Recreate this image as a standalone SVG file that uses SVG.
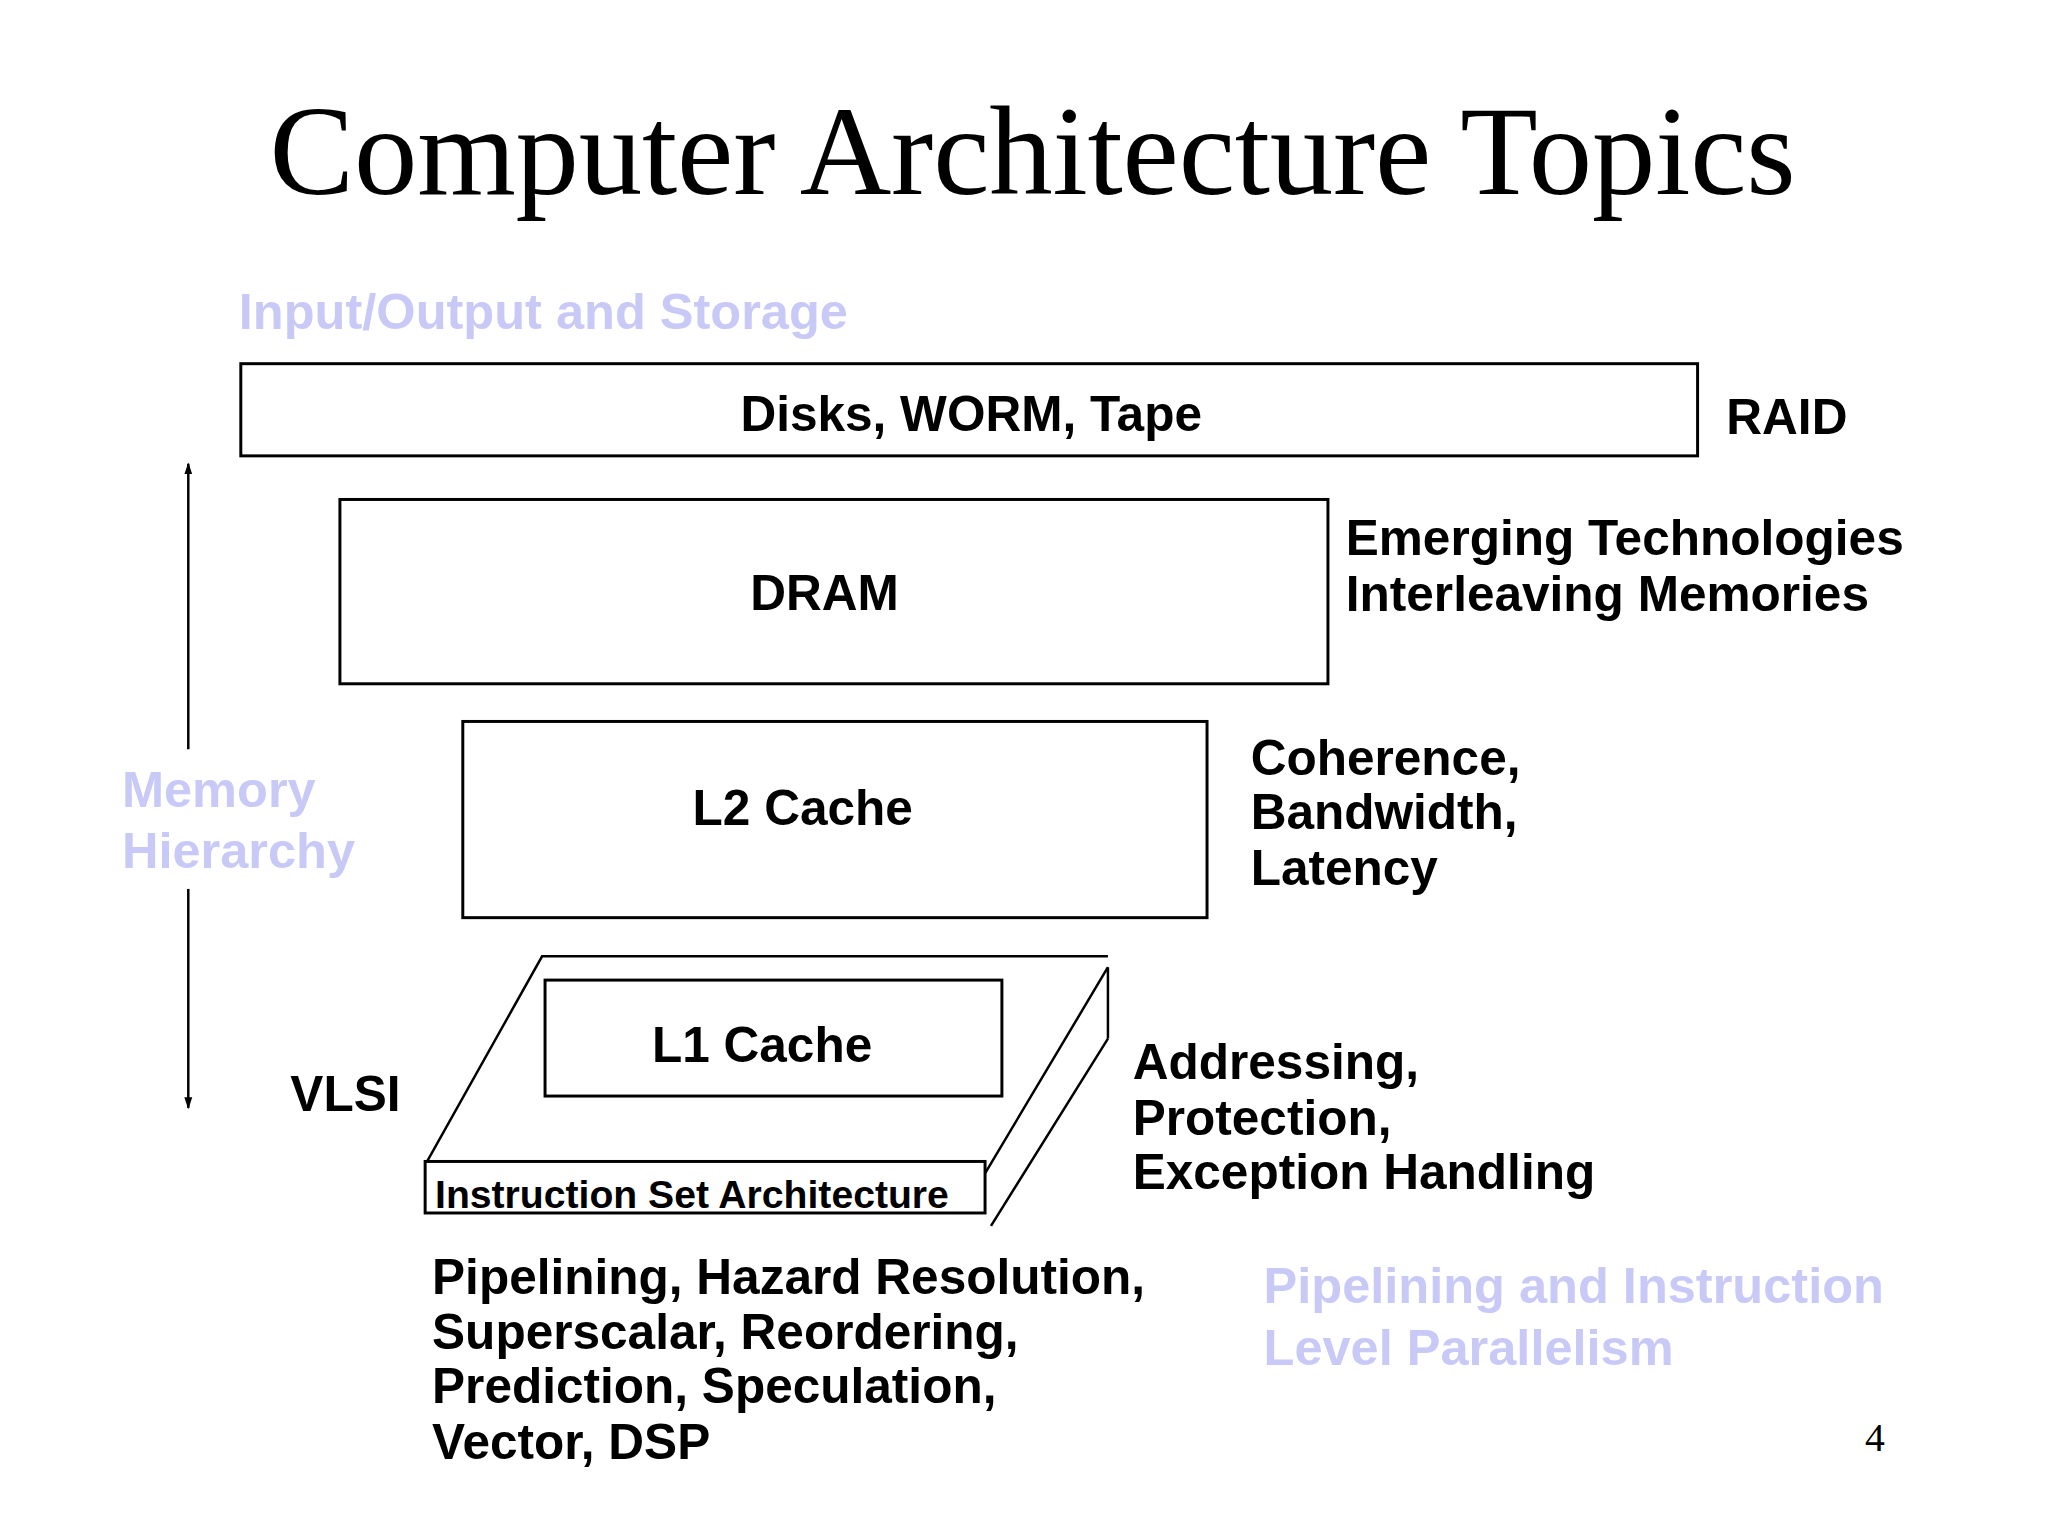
<svg xmlns="http://www.w3.org/2000/svg" width="2048" height="1536" viewBox="0 0 2048 1536">
<style>
.b{font-family:"Liberation Sans",Arial,sans-serif;font-weight:bold;font-size:50px;fill:#000}
.p{font-family:"Liberation Sans",Arial,sans-serif;font-weight:bold;font-size:51px;fill:#c9c9f7}
.box{fill:#fff;stroke:#000;stroke-width:3}
.ln{stroke:#000;stroke-width:2.5;fill:none}
</style>
<defs><marker id="ah" markerWidth="12" markerHeight="18" refX="16" refY="6" orient="auto-start-reverse" markerUnits="userSpaceOnUse" viewBox="0 0 18 12"><path d="M0,0 L18,6 L0,12 Z" fill="#000"/></marker></defs>
<rect width="2048" height="1536" fill="#fff"/>
<g transform="scale(0.991)">
<text x="1042" y="196" text-anchor="middle" font-family="Liberation Serif,serif" font-size="128" textLength="1540">Computer Architecture Topics</text>
<text class="p" x="241" y="332">Input/Output and Storage</text>
<g id="disks"><rect class="box" x="243" y="367" width="1470" height="93"/><text class="b" x="980" y="435" text-anchor="middle">Disks, WORM, Tape</text></g>
<text class="b" x="1742" y="438">RAID</text>
<g id="dram"><rect class="box" x="343" y="504" width="997" height="186"/><text class="b" x="832" y="616" text-anchor="middle">DRAM</text></g>
<text class="b" x="1358" y="560">Emerging Technologies</text>
<text class="b" x="1358" y="617">Interleaving Memories</text>
<g id="l2"><rect class="box" x="467" y="728" width="751" height="198"/><text class="b" x="810" y="832" text-anchor="middle">L2 Cache</text></g>
<text class="b" x="1262" y="782">Coherence,</text>
<text class="b" x="1262" y="837">Bandwidth,</text>
<text class="b" x="1262" y="893">Latency</text>
<g id="isa">
<path class="ln" d="M1118,965 L547,965 L431,1172"/>
<path class="ln" d="M1118,976 L1118,1048 M1118,976 L994,1184 M1118,1048 L1000,1237"/>
<rect class="box" x="429" y="1172" width="565" height="52"/>
<text x="439" y="1219" font-family="Liberation Sans,Arial,sans-serif" font-weight="bold" font-size="39.5">Instruction Set Architecture</text>
</g>
<g id="l1"><rect class="box" x="550" y="989" width="461" height="117"/><text class="b" x="769" y="1072" text-anchor="middle">L1 Cache</text></g>
<text class="b" x="1143" y="1089">Addressing,</text>
<text class="b" x="1143" y="1145">Protection,</text>
<text class="b" x="1143" y="1200">Exception Handling</text>
<text class="b" x="293" y="1121">VLSI</text>
<g id="connectors">
<line class="ln" x1="190" y1="468" x2="190" y2="756" marker-start="url(#ah)"/>
<line class="ln" x1="190" y1="897" x2="190" y2="1118" marker-end="url(#ah)"/>
</g>
<text class="p" x="123" y="814">Memory</text>
<text class="p" x="123" y="876">Hierarchy</text>
<text class="b" x="436" y="1306">Pipelining, Hazard Resolution,</text>
<text class="b" x="436" y="1361">Superscalar, Reordering,</text>
<text class="b" x="436" y="1416">Prediction, Speculation,</text>
<text class="b" x="436" y="1472">Vector, DSP</text>
<text class="p" x="1275" y="1315">Pipelining and Instruction</text>
<text class="p" x="1275" y="1377">Level Parallelism</text>
<text x="1882" y="1464" font-family="Liberation Serif,serif" font-size="40">4</text>
</g>
</svg>
